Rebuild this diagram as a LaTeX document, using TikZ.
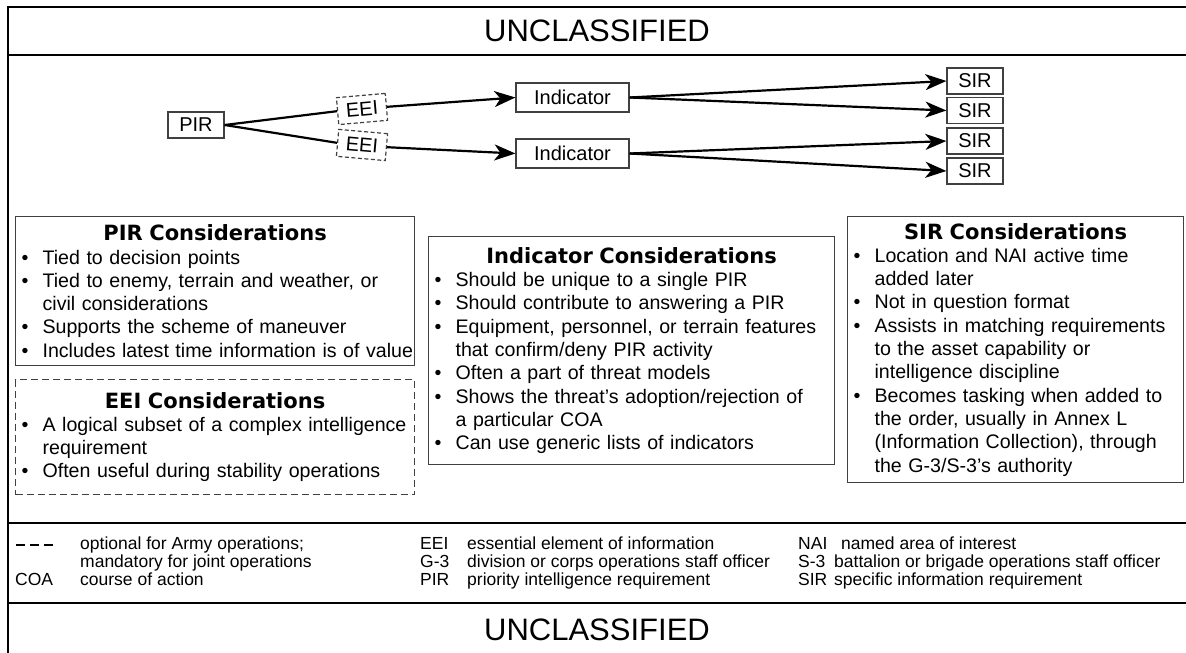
\documentclass[tikz,border=0pt]{standalone}
\usepackage{fontspec}
\setmainfont{Liberation Sans}
\newfontfamily\headfont{DejaVu Sans}
\usetikzlibrary{arrows.meta}

\newenvironment{bullets}{\begin{list}{\textbullet}{%
    \setlength{\leftmargin}{24pt}\setlength{\rightmargin}{-20pt}%
    \setlength{\labelwidth}{8pt}%
    \setlength{\labelsep}{14pt}\setlength{\itemsep}{0pt}%
    \setlength{\parsep}{0pt}\setlength{\topsep}{0pt}%
    \setlength{\partopsep}{0pt}}}{\end{list}}
\newcommand{\boxhead}[1]{{\centering\headfont\bfseries\fontsize{21}{23.3}\selectfont #1\par}}

\begin{document}
\begin{tikzpicture}
    [x=1pt,y=-1pt,
     frameline/.style={line width=2.6pt},
     smallbox/.style={draw=black!75,line width=1.2pt,inner sep=0pt,
       minimum height=26pt,font=\fontsize{20}{22}\selectfont},
     eeibox/.style={smallbox,dash pattern=on 4pt off 2.5pt,
       minimum width=49pt,minimum height=27pt},
     consbox/.style={draw=black!75,line width=1.2pt,anchor=north west,
       inner xsep=3pt,inner ysep=2pt,align=left,
       font=\fontsize{19.6}{23.3}\selectfont},
     link/.style={line width=2.2pt},
     flow/.style={link,-{Stealth[length=21pt,width=16pt,inset=6pt]}},
     legend/.style={anchor=base west,inner sep=0pt,
       font=\fontsize{17.5}{18}\selectfont},
     banner/.style={font=\fontsize{31}{31}\selectfont}]
    \useasboundingbox (0,0) rectangle (1186,653);

    \draw[frameline] (8,653) -- (8,7) -- (1186,7);
    \draw[frameline] (8,55) -- (1186,55);
    \draw[frameline] (8,523) -- (1186,523);
    \draw[frameline] (8,603) -- (1186,603);
    \node[banner] (topbanner) at (597,31) {UNCLASSIFIED};
    \node[banner] (bottombanner) at (597,630) {UNCLASSIFIED};

    \node[smallbox,minimum width=56pt] (pir) at (196,125) {PIR};
    \node[eeibox,rotate=5] (eei1) at (362,109) {EEI};
    \node[eeibox,rotate=-5] (eei2) at (362,145) {EEI};
    \node[smallbox,minimum width=113pt,minimum height=29pt] (ind1) at (572.5,97.5) {Indicator};
    \node[smallbox,minimum width=113pt,minimum height=29pt] (ind2) at (572.5,153.5) {Indicator};
    \foreach \i/\y in {1/81,2/110.5,3/141,4/171}
      \node[smallbox,minimum width=56pt] (sir\i) at (975,\y) {SIR};

    \draw[link] (pir.east) -- (eei1.west);
    \draw[link] (pir.east) -- (eei2.west);
    \draw[flow] (eei1.east) -- (ind1.west);
    \draw[flow] (eei2.east) -- (ind2.west);
    \draw[flow] (ind1.east) -- (sir1.west);
    \draw[flow] (ind1.east) -- (sir2.west);
    \draw[flow] (ind2.east) -- (sir3.west);
    \draw[flow] (ind2.east) -- (sir4.west);

    \node[consbox,text width=393pt,minimum height=149pt] (pircons) at (15,216) {%
      \boxhead{PIR Considerations}
      \begin{bullets}
        \item Tied to decision points
        \item Tied to enemy, terrain and weather, or\\ civil considerations
        \item Supports the scheme of maneuver
        \item Includes latest time information is of value
      \end{bullets}};
    \node[consbox,dash pattern=on 7pt off 4pt,text width=393pt,minimum height=115pt] (eeicons) at (15,379) {%
      \boxhead{EEI Considerations}
      \begin{bullets}
        \item A logical subset of a complex intelligence\\ requirement
        \item Often useful during stability operations
      \end{bullets}};
    \node[consbox,text width=400pt,minimum height=228pt] (indcons) at (428,236) {%
      \boxhead{Indicator Considerations}
      \begin{bullets}
        \item Should be unique to a single PIR
        \item Should contribute to answering a PIR
        \item Equipment, personnel, or terrain features\\ that confirm/deny PIR activity
        \item Often a part of threat models
        \item Shows the threat's adoption/rejection of\\ a particular COA
        \item Can use generic lists of indicators
      \end{bullets}};
    \node[consbox,text width=330pt,minimum height=266pt] (sircons) at (847,216) {%
      \boxhead{SIR Considerations}
      \begin{bullets}
        \item Location and NAI active time\\ added later
        \item Not in question format
        \item Assists in matching requirements\\ to the asset capability or\\ intelligence discipline
        \item Becomes tasking when added to\\ the order, usually in Annex L\\ (Information Collection), through\\ the G-3/S-3's authority
      \end{bullets}};

    \coordinate (dashstart) at (16,545);
    \coordinate (dashend) at (54,545);
    \draw[line width=1.5pt,dash pattern=on 9pt off 5pt] (dashstart) -- (dashend);
    \node[legend] (opt1) at (80,549) {optional for Army operations;};
    \node[legend] (opt2) at (80,567) {mandatory for joint operations};
    \node[legend] (coa) at (15,585) {COA};
    \node[legend] (coatext) at (80,585) {course of action};
    \node[legend] (eei) at (420,549) {EEI};
    \node[legend] (eeitext) at (467,549) {essential element of information};
    \node[legend] (gthree) at (420,567) {G-3};
    \node[legend] (gthreetext) at (467,567) {division or corps operations staff officer};
    \node[legend] (pirabbr) at (420,585) {PIR};
    \node[legend] (pirtext) at (467,585) {priority intelligence requirement};
    \node[legend] (nai) at (798,549) {NAI};
    \node[legend] (naitext) at (841,549) {named area of interest};
    \node[legend] (sthree) at (798,567) {S-3};
    \node[legend] (sthreetext) at (834,567) {battalion or brigade operations staff officer};
    \node[legend] (sirabbr) at (798,585) {SIR};
    \node[legend] (sirtext) at (834,585) {specific information requirement};
\end{tikzpicture}
\end{document}
